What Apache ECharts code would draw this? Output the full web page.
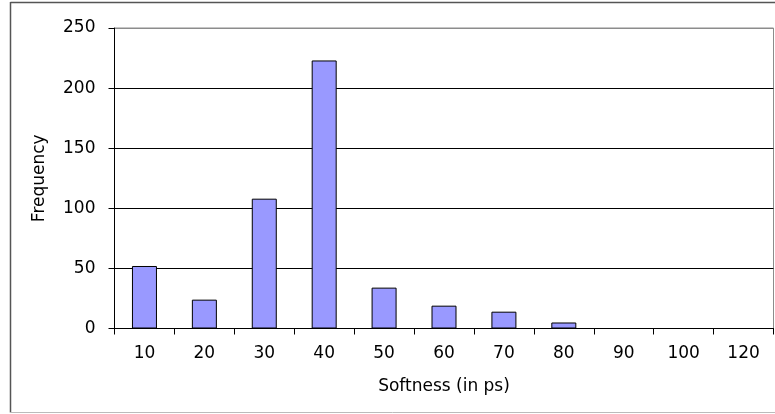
<!DOCTYPE html>
<html>
<head>
<meta charset="utf-8">
<script src="https://cdn.jsdelivr.net/npm/echarts@6/dist/echarts.min.js"></script>
<style>
  html, body { margin: 0; padding: 0; background: #fff; }
  #chart { width: 775px; height: 414px; }
</style>
</head>
<body>
<div id="chart"></div>
<script>
// Softness histogram: bin labels and counts per bin
const categories = ['10', '20', '30', '40', '50', '60', '70', '80', '90', '100', '120'];
const frequency = [52, 24, 108, 223, 34, 19, 14, 5, 0, 0, 0];
const yTicks = { min: 0, max: 250, interval: 50 };

const FONT = 'DejaVu Sans';
const chart = echarts.init(document.getElementById('chart'), null, { renderer: 'canvas' });

chart.setOption({
  animation: false,
  backgroundColor: '#fff',
  textStyle: { fontFamily: FONT },
  grid: {
    left: 114.5, right: 1.5, top: 28, bottom: 85.5,
    show: true, borderColor: '#8c8c8c', borderWidth: 1, backgroundColor: '#fff'
  },
  graphic: [
    // chart-area frame
    { type: 'line', shape: { x1: 10.5, y1: 2.5, x2: 775, y2: 2.5 }, style: { stroke: '#555', lineWidth: 1.5 } },
    { type: 'line', shape: { x1: 10.5, y1: 2, x2: 10.5, y2: 412.5 }, style: { stroke: '#555', lineWidth: 1.5 } },
    { type: 'line', shape: { x1: 10, y1: 412.5, x2: 775, y2: 412.5 }, style: { stroke: '#bbb', lineWidth: 1 } }
  ],
  xAxis: {
    type: 'category',
    data: categories,
    boundaryGap: true,
    name: 'Softness (in ps)',
    nameLocation: 'middle',
    nameGap: 50,
    nameTextStyle: { fontFamily: FONT, fontSize: 17, color: '#000' },
    axisLine: { lineStyle: { color: '#000', width: 1 } },
    axisTick: { show: true, alignWithLabel: false, length: 6, lineStyle: { color: '#000' } },
    axisLabel: { fontFamily: FONT, fontSize: 17, color: '#000', margin: 17, interval: 0 }
  },
  yAxis: {
    type: 'value',
    min: yTicks.min,
    max: yTicks.max,
    interval: yTicks.interval,
    name: 'Frequency',
    nameLocation: 'middle',
    nameGap: 66,
    nameRotate: 90,
    nameTextStyle: { fontFamily: FONT, fontSize: 17, color: '#000' },
    axisLine: { show: true, lineStyle: { color: '#000', width: 1 } },
    axisTick: { show: true, length: 6, lineStyle: { color: '#000' } },
    axisLabel: { fontFamily: FONT, fontSize: 17, color: '#000', margin: 19 },
    splitLine: {
      show: true,
      lineStyle: { color: ['#000', '#000', '#000', '#000', '#000', '#8c8c8c'], width: 1 }
    }
  },
  series: [{
    type: 'bar',
    data: frequency,
    barWidth: 25,
    itemStyle: { color: '#9999ff', borderColor: '#000', borderWidth: 1 }
  }]
});
</script>
</body>
</html>
